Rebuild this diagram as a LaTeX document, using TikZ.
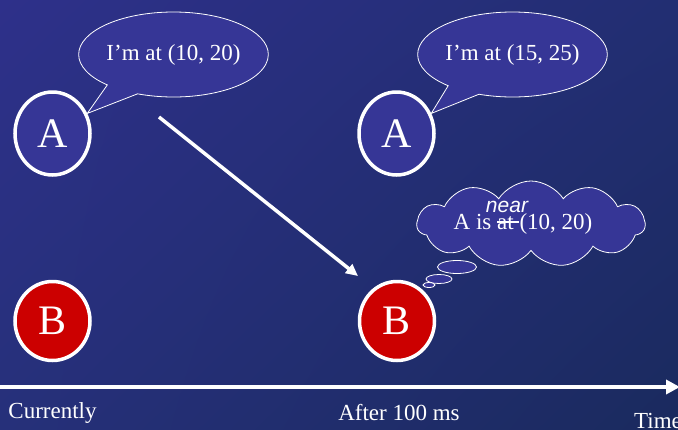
\documentclass[tikz,border=0pt]{standalone}
\usepackage{fontspec}
\setmainfont{Liberation Serif}
\newfontfamily\sansfnt{Liberation Sans}
\usetikzlibrary{shapes.geometric,shapes.callouts,shapes.symbols,arrows.meta,shadings}
\definecolor{bgTL}{RGB}{46,48,138}
\definecolor{bgTR}{RGB}{34,46,114}
\definecolor{bgBL}{RGB}{38,48,122}
\definecolor{bgBR}{RGB}{26,42,94}
\definecolor{nodefill}{RGB}{54,54,150}
\definecolor{bred}{RGB}{204,0,0}
\tikzset{
  pnode/.style={ellipse,draw=white,line width=3.5pt,minimum width=75pt,inner sep=0pt,text=white,font=\fontsize{42}{42}\selectfont},
  anode/.style={pnode,fill=nodefill,minimum height=83pt},
  bnode/.style={pnode,fill=bred,minimum height=79pt},
  speech/.style={ellipse callout,draw=white,line width=0.8pt,fill=nodefill,minimum width=189pt,minimum height=85pt,inner sep=0pt,text=white,font=\fontsize{23}{23}\selectfont,callout pointer arc=22},
  thought/.style={cloud,cloud puffs=11,cloud puff arc=115,cloud ignores aspect,draw=white,line width=0.8pt,fill=nodefill,minimum width=228pt,minimum height=86pt,inner sep=0pt},
  puff/.style={ellipse,draw=white,line width=0.8pt,fill=nodefill,inner sep=0pt},
  label/.style={text=white,font=\fontsize{23}{23}\selectfont,inner sep=0pt},
  mover/.style={draw=white,line width=3.5pt,-{Triangle[length=12pt,width=11pt]}},
  axis/.style={draw=white,line width=4pt,-{Triangle[length=14pt,width=14pt]}}
}
\newcommand{\strikeit}[1]{\setbox0\hbox{#1\ }\rlap{\rule[0.27em]{\wd0}{0.09em}}\box0}
\begin{document}
\begin{tikzpicture}[x=1pt,y=-1pt]
\useasboundingbox (0,0) rectangle (678,429);
\shade[upper left=bgTL,upper right=bgTR,lower left=bgBL,lower right=bgBR] (0,0) rectangle (678,429);
% nodes
\node[anode] (A1) at (52.5,133.5) {A};
\node[anode] (A2) at (396.5,133.5) {A};
\node[bnode] (B1) at (52.5,321) {B};
\node[bnode] (B2) at (397,321) {B};
% speech bubbles
\node[speech,callout absolute pointer={(A1.30)}] (S1) at (173.5,54.5) {I’m at (10, 20)};
\node[speech,callout absolute pointer={(A2.30)}] (S2) at (512.5,54.5) {I’m at (15, 25)};
% thought
\node[puff,minimum width=12pt,minimum height=5pt] (P3) at (429,285) {};
\node[puff,minimum width=26pt,minimum height=9pt] (P2) at (439,279) {};
\node[puff,minimum width=39pt,minimum height=13pt] (P1) at (457,267) {};
\node[thought] (C) at (531,224) {};
\node[label] (CT) at (523,224) {A is \strikeit{at}(10, 20)};
\node[label,font=\sansfnt\itshape\fontsize{21}{21}\selectfont] (near) at (507,207) {near};
% movement arrow
\coordinate (ms) at (159,117);
\coordinate (me) at (358,276);
\draw[mover] (ms) -- (me);
% time axis
\coordinate (t0) at (0,387);
\coordinate (t1) at (680,387);
\draw[axis] (t0) -- (t1);
\node[label] (L1) at (52.5,413) {Currently};
\node[label] (L2) at (399,413) {After 100 ms};
\node[label,anchor=west] (L3) at (634,421) {Time};
\end{tikzpicture}
\end{document}
